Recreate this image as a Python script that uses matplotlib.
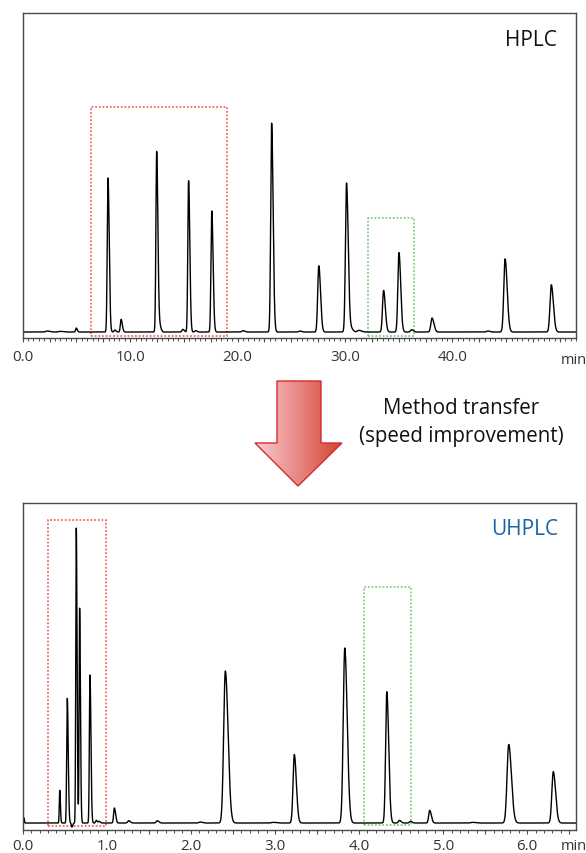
import numpy as np
import matplotlib
matplotlib.use("Agg")
import matplotlib.pyplot as plt
from matplotlib.patches import Polygon, Rectangle
from matplotlib.ticker import MultipleLocator, FuncFormatter

plt.rcParams['font.family'] = ['Open Sans', 'DejaVu Sans']

# ---------------- data ----------------
# HPLC: retention time (min), height (arb. units), width (min)
hplc_rt = [4.98, 7.94, 9.16, 12.47, 15.44, 17.60, 23.17, 27.56, 30.14, 33.59, 35.02, 38.10, 44.90, 49.20]
hplc_h = [12, 463, 38, 543, 455, 364, 628, 199, 448, 125, 239, 42, 220, 142]
hplc_w = [0.06, 0.07, 0.07, 0.07, 0.07, 0.075, 0.085, 0.10, 0.10, 0.10, 0.10, 0.11, 0.12, 0.12]
hplc_minor_rt = [2.3, 3.5, 8.57, 12.75, 14.9, 16.1, 20.5, 25.8, 30.6, 31.3, 36.2, 43.3]
hplc_minor_h = [3, 2, 6, 18, 8, 4, 4, 3, 10, 5, 7, 3]
hplc_minor_w = [0.15, 0.15, 0.07, 0.08, 0.08, 0.08, 0.10, 0.10, 0.10, 0.15, 0.10, 0.12]

# UHPLC
uhplc_rt = [0.44, 0.53, 0.637, 0.677, 0.80, 1.09, 2.41, 3.23, 3.83, 4.33, 4.84, 5.78, 6.31]
uhplc_h = [98, 373, 883, 643, 443, 45, 455, 205, 524, 393, 38, 235, 154]
uhplc_w = [0.005, 0.007, 0.006, 0.006, 0.007, 0.009, 0.020, 0.015, 0.018, 0.014, 0.012, 0.020, 0.017]
uhplc_minor_rt = [0.015, 0.585, 0.875, 0.91, 1.26, 1.60, 2.11, 2.98, 4.48, 4.61, 5.35]
uhplc_minor_h = [15, -12, 8, 5, 7, 7, 3, 2, 8, 5, 2]
uhplc_minor_w = [0.003, 0.006, 0.008, 0.008, 0.012, 0.012, 0.015, 0.02, 0.012, 0.012, 0.02]

# highlight boxes: (x0, x1, y0, y1)
hplc_red_box = (6.38, 19.06, -12, 677)
hplc_green_box = (32.13, 36.41, -12, 343)
uhplc_red_box = (0.30, 0.99, -8, 906)
uhplc_green_box = (4.06, 4.62, -5, 707)

hplc_labels = ["0.0", "10.0", "20.0", "30.0", "40.0"]
uhplc_labels = ["0.0", "1.0", "2.0", "3.0", "4.0", "5.0", "6.0"]

TAIL = 1.6


def chromatogram(t, rts, hs, ws):
    y = np.zeros_like(t)
    for rt, h, w in zip(rts, hs, ws):
        sig = np.where(t < rt, w, w * TAIL)
        y += h * np.exp(-0.5 * ((t - rt) / sig) ** 2)
    return y


W, H = 586, 854
fig = plt.figure(figsize=(W / 100, H / 100), dpi=100)

left = 22.7 / W
width = (576 - 22.7) / W
ax1 = fig.add_axes([left, 1 - 339 / H, width, (339 - 13.7) / H])
ax2 = fig.add_axes([left, 1 - 830.7 / H, width, (830.7 - 504) / H])

red = '#f05545'
green = '#6cc86c'
spine_c = '#4a4a4a'


def style(ax, xmax, ylim, mid, minor, labels, lab_step, pad):
    ax.set_xlim(0, xmax)
    ax.set_ylim(*ylim)
    ax.set_yticks([])
    for s in ax.spines.values():
        s.set_color(spine_c)
        s.set_linewidth(1.0)
    ax.xaxis.set_major_locator(MultipleLocator(mid))
    ax.xaxis.set_minor_locator(MultipleLocator(minor))

    def fmt(v, pos):
        k = v / lab_step
        if abs(k - round(k)) < 1e-6 and 0 <= round(k) < len(labels):
            return labels[int(round(k))]
        return ""
    ax.xaxis.set_major_formatter(FuncFormatter(fmt))
    ax.tick_params(axis='x', which='major', length=3.2, width=0.8, color=spine_c,
                   labelsize=10.8, labelcolor='#333333', pad=pad)
    ax.tick_params(axis='x', which='minor', length=2.2, width=0.7, color=spine_c)


# ---- HPLC ----
t1 = np.linspace(0, 51.5, 12000)
y1 = chromatogram(t1, hplc_rt, hplc_h, hplc_w) + chromatogram(t1, hplc_minor_rt, hplc_minor_h, hplc_minor_w)
ax1.plot(t1, y1, color='black', lw=1.0)
style(ax1, 51.5, (-18, 960), 2.5, 0.5, hplc_labels, 10, 4.5)
for (x0, x1, b0, b1), c in [(hplc_red_box, red), (hplc_green_box, green)]:
    ax1.add_patch(Rectangle((x0, b0), x1 - x0, b1 - b0, fill=False, ec=c,
                            lw=1.1, ls=(0, (1.2, 1.2)), clip_on=False))

# ---- UHPLC ----
t2 = np.linspace(0, 6.58, 14000)
y2 = chromatogram(t2, uhplc_rt, uhplc_h, uhplc_w) + chromatogram(t2, uhplc_minor_rt, uhplc_minor_h, uhplc_minor_w)
ax2.plot(t2, y2, color='black', lw=1.0)
style(ax2, 6.58, (-20, 958), 0.5, 0.1, uhplc_labels, 1, 2.5)
for (x0, x1, b0, b1), c in [(uhplc_red_box, red), (uhplc_green_box, green)]:
    ax2.add_patch(Rectangle((x0, b0), x1 - x0, b1 - b0, fill=False, ec=c,
                            lw=1.1, ls=(0, (1.2, 1.2)), clip_on=False))

# ---- overlay in pixel coordinates ----
ov = fig.add_axes([0, 0, 1, 1], facecolor='none')
ov.set_xlim(0, W)
ov.set_ylim(H, 0)
ov.axis('off')

ov.text(557, 41, "HPLC", ha='right', va='center', fontsize=15, color='#111111')
ov.text(558, 530, "UHPLC", ha='right', va='center', fontsize=15, color='#1a64a8')
ov.text(561, 364, "min", ha='left', va='baseline', fontsize=10.5, color='#333333')
ov.text(561, 850.5, "min", ha='left', va='baseline', fontsize=10.5, color='#333333')

ov.text(461, 409, "Method transfer", ha='center', va='center', fontsize=14.8, color='#111111')
ov.text(461, 437, "(speed improvement)", ha='center', va='center', fontsize=14.8, color='#111111')

arrow_pts = [(277, 382), (321, 382), (321, 444), (342, 444), (298, 487),
             (255, 444), (277, 444)]
poly = Polygon(arrow_pts, closed=True, fc='none', ec='#d42a30', lw=1.0, zorder=3)
ov.add_patch(poly)
c_left = np.array([0.975, 0.80, 0.82])
c_right = np.array([0.84, 0.26, 0.20])
n = 200
frac = np.linspace(0, 1, n)[None, :, None]
grad = c_left[None, None, :] * (1 - frac) + c_right[None, None, :] * frac
im = ov.imshow(grad, extent=[255, 342, 487, 382], aspect='auto', zorder=2, interpolation='bilinear')
clip = Polygon(arrow_pts, closed=True, transform=ov.transData)
im.set_clip_path(clip)

fig.savefig("out.png", dpi=100)
